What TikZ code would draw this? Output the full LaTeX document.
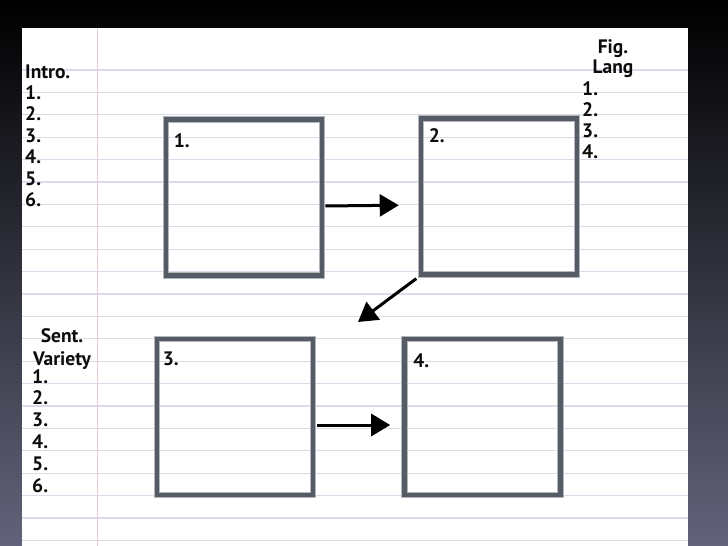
\documentclass[tikz,border=0pt]{standalone}
\usepackage{fontspec}
\setmainfont{PT Sans}
\usetikzlibrary{arrows.meta, positioning}

\definecolor{ruleline}{RGB}{220,219,234}
\definecolor{marginline}{RGB}{230,204,214}
\definecolor{boxgray}{RGB}{86,92,102}
\definecolor{bgmiddle}{RGB}{22,22,46}
\definecolor{bgbottom}{RGB}{98,99,122}
\definecolor{ink}{RGB}{12,12,12}

\tikzset{
  paper/.style={fill=white},
  ruled/.style={draw=ruleline, line width=1.3pt},
  margin/.style={draw=marginline, line width=1pt},
  card/.style={draw=boxgray, line width=4.6pt, minimum width=156pt, minimum height=156pt,
    inner sep=0pt, preaction={draw=boxgray!45, line width=6.6pt}},
  hand/.style={font=\bfseries\fontsize{19.5}{19.5}\selectfont, text=ink, inner sep=0pt, anchor=base west},
  flow/.style={draw=black, line width=3pt, -{Triangle[length=19pt,width=22pt]}},
}

\begin{document}
\begin{tikzpicture}[x=1pt, y=-1pt]
\useasboundingbox (0,0) rectangle (728,546);
\shade[top color=black, middle color=bgmiddle, bottom color=bgbottom] (0,0) rectangle (728,546);
\fill[paper] (22,28) rectangle (688,546);
\foreach \k in {0,...,21}
  \draw[ruled] (22,70+22.4*\k) -- (688,70+22.4*\k);
\draw[margin] (97,28) -- (97,546);

\node[card] (box1) at (244,197.5) {};
\node[card] (box2) at (499,196.5) {};
\node[card] (box3) at (235,417) {};
\node[card] (box4) at (482.5,417) {};

\node[hand] (lab1) at ([xshift=10pt, yshift=-30pt]box1.north west) {1.};
\node[hand] (lab2) at ([xshift=10pt, yshift=-26pt]box2.north west) {2.};
\node[hand] (lab3) at ([xshift=8pt, yshift=-29pt]box3.north west) {3.};
\node[hand] (lab4) at ([xshift=11pt, yshift=-31pt]box4.north west) {4.};

\coordinate (turn) at (358,322);
\draw[flow, shorten <=1pt, shorten >=20pt] ([yshift=-8.5pt]box1.east) -- ([yshift=-8.5pt]box2.west);
\draw[flow, shorten <=3pt] (box2.south west) -- (turn);
\draw[flow, shorten <=2pt, shorten >=12pt] ([yshift=-8pt]box3.east) -- ([yshift=-8pt]box4.west);

\node[hand] (intro) at (25,78) {Intro.};
\foreach \i in {1,...,6}
  \node[hand] (intro\i) at (25,78+21.4*\i) {\i.};

\node[hand, anchor=base] (fig) at (613,53) {Fig.};
\node[hand, anchor=base] (lang) at (613,73) {Lang};
\foreach \i in {1,...,4}
  \node[hand] (lang\i) at (582,73.7+21.3*\i) {\i.};

\node[hand, anchor=base] (sent) at (62,342) {Sent.};
\node[hand, anchor=base] (variety) at (62,365) {Variety};
\foreach \i in {1,...,6}
  \node[hand] (variety\i) at (32,361.2+21.8*\i) {\i.};
\end{tikzpicture}
\end{document}
